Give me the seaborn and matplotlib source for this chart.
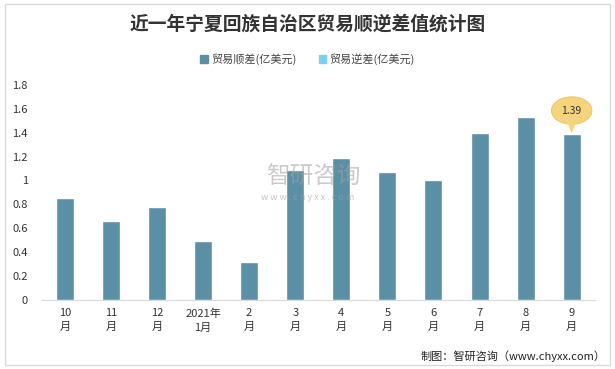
import pandas as pd
import seaborn as sns
import matplotlib.pyplot as plt
from matplotlib.patches import Rectangle, Ellipse, Polygon

# Data
months = ['10\n月', '11\n月', '12\n月', '2021年\n1月', '2\n月', '3\n月',
          '4\n月', '5\n月', '6\n月', '7\n月', '8\n月', '9\n月']
surplus = [0.85, 0.66, 0.78, 0.49, 0.32, 1.09, 1.19, 1.07, 1.00, 1.40, 1.53, 1.39]
yticks = [0, 0.2, 0.4, 0.6, 0.8, 1, 1.2, 1.4, 1.6, 1.8]
ytick_labels = ['0', '0.2', '0.4', '0.6', '0.8', '1', '1.2', '1.4', '1.6', '1.8']

bar_color = '#5B8FA6'
deficit_color = '#7DCFF0'

df = pd.DataFrame({'month': months, 'surplus': surplus})

sns.set_style('white')
plt.rcParams['font.family'] = ['Noto Sans CJK SC', 'DejaVu Sans']

fig = plt.figure(figsize=(6.15, 3.69), dpi=100)
ax = fig.add_axes([0.068, 0.187, 0.899, 0.583])

sns.barplot(data=df, x='month', y='surplus', color=bar_color, width=0.39,
            saturation=1, ax=ax)

ax.set_ylim(0, 1.8)
ax.set_xlim(-0.5, len(months) - 0.5)
ax.set_yticks(yticks)
ax.set_yticklabels(ytick_labels, fontsize=8, color='#333333')
ax.tick_params(axis='x', labelsize=8, colors='#333333', length=0, pad=6)
ax.tick_params(axis='y', length=0, pad=10)
for lbl in ax.get_xticklabels():
    lbl.set_linespacing(1.5)
ax.set_xlabel('')
ax.set_ylabel('')
for side in ['top', 'right', 'left']:
    ax.spines[side].set_visible(False)
ax.spines['bottom'].set_color('#d9d9d9')

# callout for the last bar
last = len(surplus) - 1
ex, ey = last, surplus[-1] + 0.195
ax.add_patch(Ellipse((ex, ey), 0.88, 0.23, facecolor='#F6D47C',
                     edgecolor='#e8c060', lw=0.6, zorder=4))
ax.add_patch(Polygon([(ex - 0.1, ey - 0.09), (ex + 0.1, ey - 0.09),
                      (ex, surplus[-1] + 0.005)], closed=True,
                     facecolor='#F6D47C', edgecolor='none', zorder=4))
ax.text(ex, ey, f'{surplus[-1]:.2f}', ha='center', va='center',
        fontsize=7.5, color='#333333', zorder=5)

# watermark
fig.text(0.51, 0.518, '智研咨询', fontsize=17, color='#a0a0a0', alpha=0.55,
         ha='center', va='center')
fig.text(0.5, 0.465, 'w w w . c h y x x . c o m', fontsize=6.5,
         color='#a0a0a0', alpha=0.6, ha='center', va='center')

# title and legend
fig.text(0.5, 0.935, '近一年宁夏回族自治区贸易顺逆差值统计图', fontsize=13.5,
         fontweight='bold', color='#333333', ha='center', va='center')
handles = [Rectangle((0, 0), 1, 1, color=bar_color),
           Rectangle((0, 0), 1, 1, color=deficit_color)]
fig.legend(handles, ['贸易顺差(亿美元)', '贸易逆差(亿美元)'], loc='center',
           bbox_to_anchor=(0.5, 0.84), ncol=2, frameon=False, fontsize=8,
           handlelength=0.7, handleheight=0.7, handletextpad=0.3,
           columnspacing=2.0, labelcolor='#444444')

fig.text(0.985, 0.035, '制图：智研咨询（www.chyxx.com）', fontsize=8,
         color='#222222', ha='right', va='center')

# outer frame
fig.patches.append(Rectangle((0.008, 0.012), 0.984, 0.976,
                             transform=fig.transFigure, fill=False,
                             edgecolor='#d9d9d9', lw=1))

fig.savefig('out.png', dpi=100)
